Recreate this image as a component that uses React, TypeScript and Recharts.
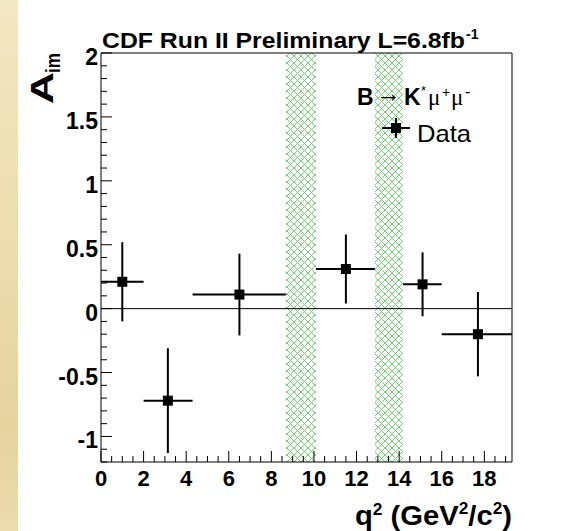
import React from 'react';
import { ComposedChart, Scatter, ErrorBar, XAxis, YAxis, ReferenceArea, ReferenceLine } from 'recharts';

// q^2 bins of the measurement (GeV^2/c^2)
const qSquared = [1.0, 3.14, 6.5, 11.5, 15.1, 17.7];
const binLow = [0, 2.0, 4.3, 10.09, 14.18, 16.0];
const binHigh = [2.0, 4.3, 8.68, 12.86, 16.0, 19.3];
const aIm = [0.21, -0.72, 0.11, 0.31, 0.19, -0.2];
const aImErr = [0.31, 0.41, 0.32, 0.27, 0.25, 0.33];

// charmonium veto regions (J/psi, psi(2S))
const vetoLow = [8.68, 12.86];
const vetoHigh = [10.09, 14.18];

const xTickLabels = [0, 2, 4, 6, 8, 10, 12, 14, 16, 18];
const yTickLabels = [-1, -0.5, 0, 0.5, 1, 1.5, 2];
const xMinorTicks = Array.from({ length: 39 }, (_, i) => i * 0.5);
const yMinorTicks = Array.from({ length: 33 }, (_, i) => Math.round((-1.2 + i * 0.1) * 10) / 10);

const data = qSquared.map((q, i) => ({
  q,
  a: aIm[i],
  ex: [q - binLow[i], binHigh[i] - q],
  ey: aImErr[i],
}));

const FONT = '"Liberation Sans", Arial, Helvetica, sans-serif';
const SERIF = '"Liberation Serif", "Times New Roman", serif';

const YTick = (props: any) => {
  const { x, y, payload } = props;
  const v = payload.value;
  const major = yTickLabels.some((t) => Math.abs(t - v) < 1e-6);
  return (
    <g>
      <line x1={x} x2={x + (major ? 11 : 6)} y1={y} y2={y} stroke="#000" strokeWidth={1} />
      {major && (
        <text x={x - 3} y={y + 12} textAnchor="end" fontFamily={FONT} fontWeight="bold" fontSize={23} fill="#000">
          {String(v)}
        </text>
      )}
    </g>
  );
};

const XTick = (props: any) => {
  const { x, y, payload } = props;
  const v = payload.value;
  const major = xTickLabels.some((t) => Math.abs(t - v) < 1e-6);
  return (
    <g>
      <line x1={x} x2={x} y1={y} y2={y - (major ? 11 : 6)} stroke="#000" strokeWidth={1} />
      {major && (
        <text x={x} y={y + 24} textAnchor="middle" fontFamily={FONT} fontWeight="bold" fontSize={22} fill="#000">
          {String(v)}
        </text>
      )}
    </g>
  );
};

const SquareMarker = (props: any) => {
  const { cx, cy } = props;
  return <rect x={cx - 5} y={cy - 5} width={10} height={10} fill="#000" />;
};

export default function App() {
  return (
    <div style={{ position: 'absolute', left: 0, top: 0, width: 566, height: 531, background: '#fff', overflow: 'hidden' }}>
      <div
        style={{
          position: 'absolute', left: 0, top: 0, width: 18, height: 531,
          background: 'linear-gradient(180deg, #f3e8c4 0%, #eee0b5 30%, #ebdaab 55%, #e6d3a0 80%, #ecdbae 100%)',
        }}
      />
      <svg width={0} height={0} style={{ position: 'absolute' }}>
        <defs>
          <pattern id="hatch" width={7} height={7} patternUnits="userSpaceOnUse">
            <path d="M0,0 L7,7 M7,0 L0,7" stroke="#6fd46f" strokeWidth={1} />
          </pattern>
        </defs>
      </svg>
      <ComposedChart width={566} height={531} data={data} margin={{ top: 53, right: 54, bottom: 29, left: 0 }} style={{ position: 'absolute', left: 0, top: 0 }}>
        <XAxis
          dataKey="q"
          type="number"
          domain={[0, 19.3]}
          allowDataOverflow
          ticks={xMinorTicks}
          interval={0}
          tickSize={0}
          tickMargin={0}
          tickLine={false}
          axisLine={false}
          tick={XTick}
          height={40}
        />
        <YAxis
          dataKey="a"
          type="number"
          domain={[-1.2, 2]}
          allowDataOverflow
          ticks={yMinorTicks}
          interval={0}
          tickSize={0}
          tickMargin={0}
          tickLine={false}
          axisLine={false}
          tick={YTick}
          width={101}
        />
        {vetoLow.map((lo, i) => (
          <ReferenceArea key={`veto-${i}`} x1={lo} x2={vetoHigh[i]} y1={-1.2} y2={2} fill="url(#hatch)" fillOpacity={1} stroke="none" />
        ))}
        <ReferenceLine y={0} stroke="#000" strokeWidth={1} />
        <ReferenceArea x1={0} x2={19.3} y1={-1.2} y2={2} fill="none" stroke="#000" strokeWidth={1} />
        <Scatter dataKey="a" shape={SquareMarker} isAnimationActive={false}>
          <ErrorBar dataKey="ey" direction="y" width={0} stroke="#000" strokeWidth={2} isAnimationActive={false} />
          <ErrorBar dataKey="ex" direction="x" width={0} stroke="#000" strokeWidth={2} isAnimationActive={false} />
        </Scatter>
      </ComposedChart>
      <svg width={566} height={531} style={{ position: 'absolute', left: 0, top: 0, pointerEvents: 'none' }}>
        {/* title */}
        <text x={102} y={48} fontFamily={FONT} fontWeight="bold" fontSize={22} textLength={363} lengthAdjust="spacingAndGlyphs">
          CDF Run II Preliminary L=6.8fb
        </text>
        <text x={466} y={39} fontFamily={FONT} fontWeight="bold" fontSize={14}>-1</text>

        {/* y axis title */}
        <g transform="translate(53,104) rotate(-90)">
          <text x={0} y={0} fontFamily={FONT} fontWeight="bold" fontSize={31} textLength={32} lengthAdjust="spacingAndGlyphs">A</text>
          <text x={31} y={7} fontFamily={FONT} fontWeight="bold" fontSize={20} textLength={20} lengthAdjust="spacingAndGlyphs">im</text>
        </g>

        {/* x axis title */}
        <text x={355} y={525} fontFamily={FONT} fontWeight="bold" fontSize={27} textLength={157} lengthAdjust="spacingAndGlyphs">
          q<tspan dy={-10} fontSize={16}>2</tspan><tspan dy={10}> (GeV</tspan><tspan dy={-11} fontSize={16}>2</tspan><tspan dy={11}>/c</tspan><tspan dy={-11} fontSize={16}>2</tspan><tspan dy={11}>)</tspan>
        </text>

        {/* legend */}
        <text x={357} y={105} fontFamily={FONT} fontWeight="bold" fontSize={23}>B</text>
        <text x={376} y={102} fontFamily={FONT} fontSize={26} textLength={25} lengthAdjust="spacingAndGlyphs">→</text>
        <text x={404} y={105} fontFamily={FONT} fontWeight="bold" fontSize={23}>K</text>
        <text x={421} y={95} fontFamily={FONT} fontSize={13}>*</text>
        <text x={428} y={105} fontFamily={SERIF} fontSize={23}>μ</text>
        <text x={442} y={97} fontFamily={FONT} fontSize={14}>+</text>
        <text x={451} y={105} fontFamily={SERIF} fontSize={23}>μ</text>
        <text x={465} y={97} fontFamily={FONT} fontSize={16}>-</text>

        <line x1={382} x2={410} y1={128} y2={128} stroke="#000" strokeWidth={2} />
        <line x1={396} x2={396} y1={118} y2={138} stroke="#000" strokeWidth={2} />
        <rect x={391} y={123} width={10} height={10} fill="#000" />
        <text x={417} y={142} fontFamily={FONT} fontSize={24} textLength={54} lengthAdjust="spacingAndGlyphs">Data</text>
      </svg>
    </div>
  );
}
